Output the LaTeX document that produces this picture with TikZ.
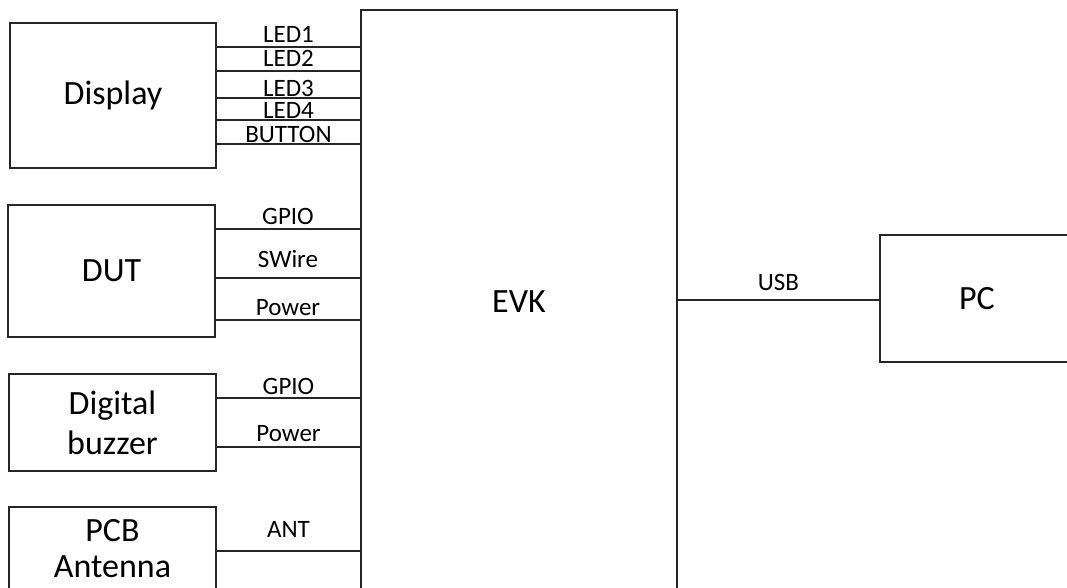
\documentclass[tikz,border=0pt]{standalone}
\usepackage{fontspec}
\setmainfont{Carlito}
\usetikzlibrary{positioning}
\newcommand{\boxfont}{\fontsize{34}{40}\selectfont}
\newcommand{\sigfont}{\fontsize{25}{28}\selectfont}

\begin{document}
\begin{tikzpicture}[x=1pt, y=-1pt,
    blk/.style={draw=black!85, line width=1.1pt, inner sep=0pt,
        font=\boxfont, align=center},
    wire/.style={draw=black!85, line width=1.1pt},
    sig/.style={font=\sigfont, inner sep=0pt}
  ]
  \useasboundingbox (0,0) rectangle (1067,588);
  \clip (0,0) rectangle (1067,588);

  % blocks
  \node[blk, minimum width=206pt, minimum height=145pt] (disp) at (113,95.5) {Display};
  \node[blk, minimum width=207pt, minimum height=132pt] (dut) at (111.5,271) {DUT};
  \node[blk, minimum width=207pt, minimum height=97pt] (buzz) at (112.5,422.5) {Digital\\buzzer};
  \node[blk, minimum width=207pt, minimum height=84pt,
        font=\fontsize{34}{36}\selectfont] (ant) at (112.5,549) {PCB\\Antenna};
  \node[blk, minimum width=316pt, minimum height=584pt] (evk) at (519,302) {EVK};
  \node[blk, minimum width=194pt, minimum height=127pt] (pc) at (977,298.5) {PC};

  % display lines
  \draw[wire] (disp.east |- 0,47) -- node[sig, above=3.5pt] {LED1} (evk.west |- 0,47);
  \draw[wire] (disp.east |- 0,71) -- node[sig, above=4pt] {LED2} (evk.west |- 0,71);
  \draw[wire] (disp.east |- 0,98) -- node[sig, above=1pt] {LED3} (evk.west |- 0,98);
  \draw[wire] (disp.east |- 0,120) -- node[sig, above=0.5pt] {LED4} (evk.west |- 0,120);
  \draw[wire] (disp.east |- 0,144) -- node[sig, above=0.5pt] {BUTTON} (evk.west |- 0,144);

  % DUT lines
  \draw[wire] (dut.east |- 0,229) -- node[sig, above=4pt] {GPIO} (evk.west |- 0,229);
  \draw[wire] (dut.east |- 0,278) -- node[sig, above=10pt] {SWire} (evk.west |- 0,278);
  \draw[wire] (dut.east |- 0,320) -- node[sig, above=4pt] {Power} (evk.west |- 0,320);

  % buzzer and antenna
  \draw[wire] (buzz.east |- 0,398) -- node[sig, above=3pt] {GPIO} (evk.west |- 0,398);
  \draw[wire] (buzz.east |- 0,447) -- node[sig, above=5pt] {Power} (evk.west |- 0,447);
  \draw[wire] (ant.east |- 0,551) -- node[sig, above=13pt] {ANT} (evk.west |- 0,551);

  % host
  \draw[wire] (evk.east |- 0,300) -- node[sig, above=9pt] {USB} (pc.west |- 0,300);
\end{tikzpicture}
\end{document}
